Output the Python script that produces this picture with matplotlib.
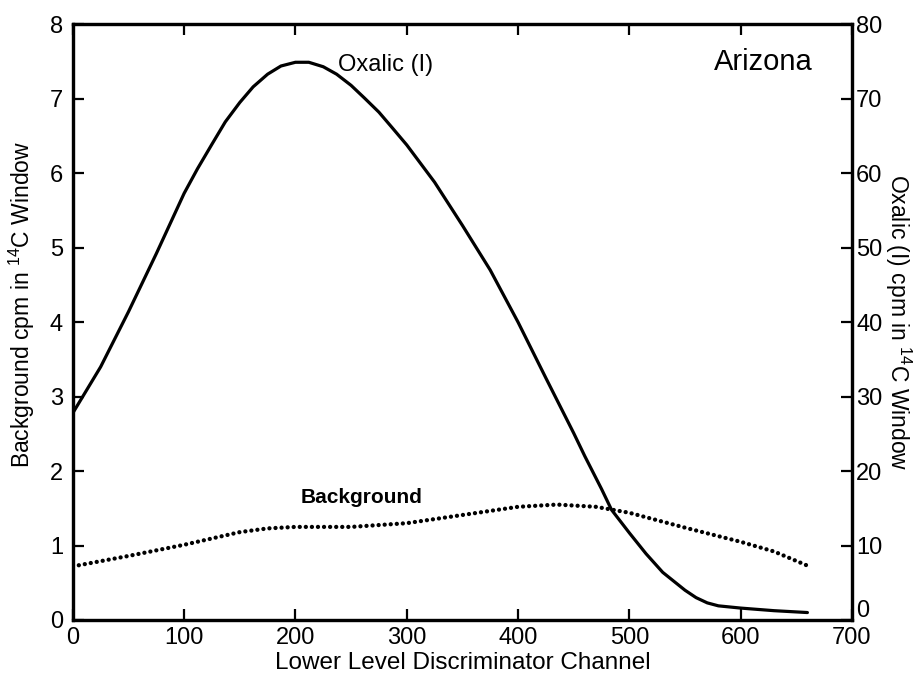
import matplotlib
matplotlib.use("Agg")
import matplotlib.pyplot as plt
import matplotlib.transforms as mtransforms
from matplotlib import font_manager

# ---------- data ----------
oxalic_x = [0, 25, 50, 75, 100, 112, 125, 137, 150, 162, 175, 187, 200, 212, 225,
            237, 250, 262, 275, 287, 300, 325, 350, 375, 400, 425, 450, 460, 475,
            484, 500, 515, 530, 540, 550, 560, 570, 580, 600, 630, 660]
oxalic_cpm = [27.8, 34.0, 41.4, 49.2, 57.3, 60.6, 63.9, 66.9, 69.5, 71.6, 73.3, 74.4,
              74.9, 74.9, 74.3, 73.3, 71.8, 70.1, 68.2, 66.1, 63.8, 58.8, 53.0, 47.0,
              40.0, 32.5, 25.1, 22.0, 17.6, 14.8, 11.7, 8.9, 6.4, 5.2, 4.0, 3.0,
              2.3, 1.9, 1.6, 1.25, 1.0]

bkg_x = [0, 50, 100, 150, 175, 200, 225, 250, 300, 350, 400, 435, 470, 500, 550,
         600, 630, 660]
bkg_cpm = [0.72, 0.86, 1.01, 1.18, 1.23, 1.25, 1.25, 1.25, 1.30, 1.41, 1.52, 1.55,
           1.52, 1.44, 1.24, 1.05, 0.92, 0.73]

x_ticks = [0, 100, 200, 300, 400, 500, 600, 700]
left_ticks = [0, 1, 2, 3, 4, 5, 6, 7, 8]
right_ticks = [0, 10, 20, 30, 40, 50, 60, 70, 80]

# ---------- fonts ----------
names = {f.name for f in font_manager.fontManager.ttflist}
base = "Liberation Sans" if "Liberation Sans" in names else "DejaVu Sans"
plt.rcParams["font.family"] = [base, "DejaVu Sans"]
plt.rcParams["mathtext.fontset"] = "custom"
plt.rcParams["mathtext.rm"] = base
plt.rcParams["mathtext.it"] = base

fig = plt.figure(figsize=(9.22, 6.75), dpi=100)
ax = fig.add_axes([0.079, 0.0815, 0.845, 0.8825])
ax2 = ax.twinx()

# background on the left axis, dotted
ax.plot(bkg_x, bkg_cpm, color="black", lw=3.1, linestyle=(0, (0.01, 1.4)),
        dash_capstyle="round")
# oxalic on the right axis, solid
ax2.plot(oxalic_x, oxalic_cpm, color="black", lw=2.3, solid_capstyle="round",
         solid_joinstyle="round")

ax.set_xlim(0, 700)
ax.set_ylim(0, 8)
ax2.set_ylim(0, 80)
ax.set_xticks(x_ticks)
ax.set_yticks(left_ticks)
ax2.set_yticks(right_ticks)
ax.set_xticklabels([str(t) for t in x_ticks], fontsize=17)
ax.set_yticklabels([str(t) for t in left_ticks], fontsize=17)
ax2.set_yticklabels([str(t) for t in right_ticks], fontsize=17)

ax.tick_params(axis="x", direction="in", length=8, width=1.6, top=True, pad=5)
ax.tick_params(axis="y", direction="in", length=8, width=1.6, pad=7)
ax2.tick_params(axis="y", direction="in", length=8, width=1.6, pad=3)
for a in (ax, ax2):
    for s in a.spines.values():
        s.set_linewidth(2.3)

# lift the right-hand "0" a little so it clears the "700"
lbl0 = ax2.get_yticklabels()[0]
lbl0.set_transform(lbl0.get_transform()
                   + mtransforms.ScaledTranslation(0, 8 / 72, fig.dpi_scale_trans))

ax.set_xlabel("Lower Level Discriminator Channel", fontsize=17.5, labelpad=2)
ax.set_ylabel(r"Background cpm in $^{14}$C Window", fontsize=16.5)
ax.yaxis.set_label_coords(-0.046, 0.53)
ax2.set_ylabel(r"Oxalic (I) cpm in $^{14}$C Window", fontsize=16.5, rotation=270,
               labelpad=22)

ax.text(238, 7.46, "Oxalic (I)", fontsize=17, va="center", ha="left")
ax.text(665, 7.5, "Arizona", fontsize=21, va="center", ha="right")
ax.text(259, 1.65, "Background", fontsize=15, va="center", ha="center",
        fontweight="bold")

fig.savefig("out.png", dpi=100)
